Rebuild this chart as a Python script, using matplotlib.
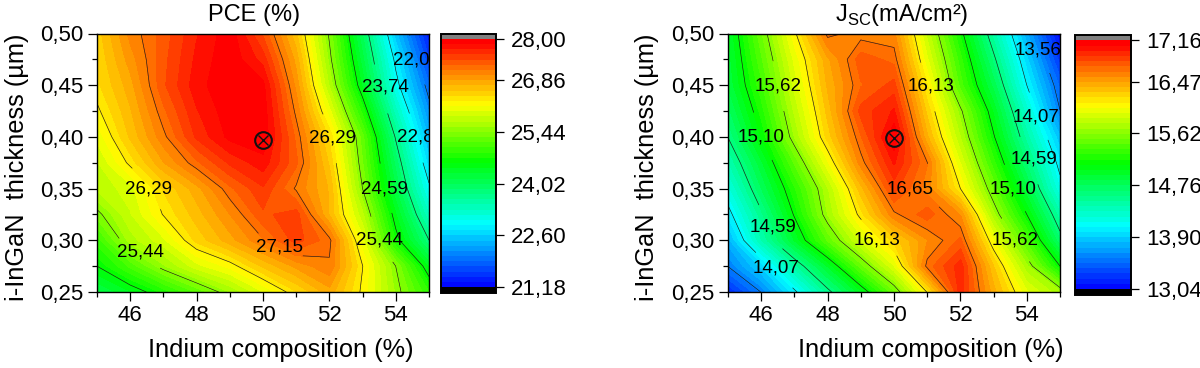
import numpy as np
import matplotlib
matplotlib.use("Agg")
import matplotlib.pyplot as plt
from matplotlib.colors import LinearSegmentedColormap, Normalize

plt.rcParams['font.family'] = ['Liberation Sans', 'DejaVu Sans']
plt.rcParams['mathtext.fontset'] = 'custom'
plt.rcParams['mathtext.rm'] = 'Liberation Sans'

indium = [45, 46, 47, 48, 49, 50, 51, 52, 53, 54, 55]
thickness = [0.25, 0.275, 0.30, 0.325, 0.35, 0.375, 0.40, 0.425, 0.45, 0.475, 0.50]

pce = [
    [24.15, 24.42, 24.77, 25.17, 25.58, 26.00, 26.42, 26.80, 26.25, 25.55, 24.87],
    [24.59, 25.05, 25.55, 25.95, 26.20, 26.60, 26.90, 27.12, 26.30, 25.44, 24.40],
    [24.94, 25.65, 25.97, 26.48, 26.80, 27.13, 27.50, 27.20, 26.05, 24.70, 23.74],
    [25.37, 25.85, 26.31, 26.65, 27.00, 27.40, 27.50, 26.70, 25.75, 24.45, 23.30],
    [25.75, 25.95, 26.45, 26.80, 27.25, 27.55, 27.12, 26.70, 25.44, 24.15, 22.95],
    [25.85, 26.35, 26.85, 27.25, 27.60, 27.80, 27.32, 26.55, 25.30, 23.95, 22.65],
    [26.05, 26.60, 27.10, 27.60, 27.90, 27.97, 27.25, 26.40, 25.20, 23.70, 22.40],
    [26.25, 26.70, 27.25, 27.70, 27.95, 27.95, 27.10, 26.05, 24.80, 23.35, 22.15],
    [26.40, 26.80, 27.40, 27.80, 27.98, 27.90, 26.95, 25.70, 24.40, 23.00, 21.90],
    [26.45, 26.93, 27.38, 27.75, 27.97, 27.65, 26.80, 25.52, 24.20, 22.80, 21.60],
    [26.50, 27.05, 27.35, 27.70, 27.95, 27.40, 26.60, 25.40, 24.00, 22.50, 21.35],
]
jsc = [
    [13.20, 13.56, 14.03, 14.53, 14.98, 15.50, 16.14, 16.95, 16.42, 15.97, 15.72],
    [13.56, 13.92, 14.45, 14.93, 15.48, 15.95, 16.68, 16.95, 16.30, 15.72, 15.10],
    [13.77, 14.40, 14.93, 15.45, 15.90, 16.25, 16.55, 16.75, 16.03, 15.40, 14.67],
    [14.00, 14.55, 15.12, 15.70, 16.18, 16.62, 16.78, 16.55, 15.72, 15.10, 14.43],
    [14.20, 14.75, 15.25, 15.77, 16.35, 16.85, 16.60, 16.13, 15.50, 14.85, 14.15],
    [14.40, 14.90, 15.45, 16.02, 16.60, 17.00, 16.65, 15.95, 15.30, 14.65, 14.00],
    [14.59, 15.10, 15.70, 16.25, 16.72, 17.15, 16.40, 15.78, 15.12, 14.45, 13.82],
    [14.72, 15.22, 15.80, 16.33, 16.85, 17.00, 16.27, 15.65, 14.99, 14.27, 13.56],
    [14.85, 15.33, 15.90, 16.40, 16.72, 16.85, 16.13, 15.40, 14.80, 14.07, 13.44],
    [14.88, 15.42, 15.98, 16.45, 16.78, 16.70, 15.97, 15.30, 14.63, 13.92, 13.25],
    [14.92, 15.51, 16.10, 16.68, 16.60, 16.58, 15.84, 15.16, 14.45, 13.74, 13.05],
]

pce_range = (21.18, 28.00)
jsc_range = (13.04, 17.16)
pce_cb_ticks = [21.18, 22.60, 24.02, 25.44, 26.86, 28.00]
jsc_cb_ticks = [13.04, 13.90, 14.76, 15.62, 16.47, 17.16]
pce_cb_labels = ['21,18', '22,60', '24,02', '25,44', '26,86', '28,00']
jsc_cb_labels = ['13,04', '13,90', '14,76', '15,62', '16,47', '17,16']
xticks = [46, 48, 50, 52, 54]
yticks = [0.25, 0.30, 0.35, 0.40, 0.45, 0.50]
ytick_labels = ['0,25', '0,30', '0,35', '0,40', '0,45', '0,50']

pce_labels = [('26,29', 46.54, 0.350), ('25,44', 46.31, 0.289), ('27,15', 50.5, 0.294),
              ('26,29', 52.1, 0.399), ('25,44', 53.5, 0.300), ('24,59', 53.66, 0.350),
              ('23,74', 53.7, 0.448), ('22,89', 54.75, 0.400), ('22,03', 54.62, 0.474)]
jsc_labels = [('15,62', 46.5, 0.449), ('15,10', 46.0, 0.400), ('14,59', 46.35, 0.313),
              ('14,07', 46.45, 0.273), ('16,13', 49.48, 0.300), ('16,65', 50.5, 0.350),
              ('16,13', 51.1, 0.449), ('13,56', 54.35, 0.484), ('14,07', 54.28, 0.419),
              ('14,59', 54.22, 0.379), ('15,10', 53.6, 0.350), ('15,62', 53.65, 0.300)]

pce_marker = (50.0, 0.397)
jsc_marker = (50.0, 0.399)

cmap = LinearSegmentedColormap.from_list('rb', [
    (0.0, '#0000ff'), (0.255, '#00ffff'), (0.505, '#00ff00'),
    (0.735, '#ffff00'), (0.87, '#ff8000'), (0.985, '#ff0000'), (1.0, '#ff0000')])
cmap.set_under('#000000')
cmap.set_over('#808080')

W, H = 1200, 368
TICK_FS = 16
LABEL_FS = 18.3
fig = plt.figure(figsize=(W / 100, H / 100), dpi=100)


def rect(x0, x1, y0, y1):
    return [x0 / W, 1 - y1 / H, (x1 - x0) / W, (y1 - y0) / H]


def fmt_level(v):
    return f"{round(v + 1e-9, 2):.2f}".replace('.', ',')


def panel(z, rng, ticks, tlabels, labels, marker, title, axbox, cbbox, ylab_x, tx, xlx):
    ax = fig.add_axes(rect(*axbox))
    fill_levels = np.linspace(rng[0], rng[1], 49)
    line_levels = np.linspace(rng[0], rng[1], 9)[1:-1]
    norm = Normalize(rng[0], rng[1])
    cf = ax.contourf(indium, thickness, z, levels=fill_levels, cmap=cmap, norm=norm, extend='both')
    cf.set_edgecolor('face')
    cf.set_linewidth(0.3)
    cs = ax.contour(indium, thickness, z, levels=line_levels, colors='#1a1a1a', linewidths=0.45)
    ax.clabel(cs, fmt=fmt_level, fontsize=13.5, inline=True, inline_spacing=2,
              manual=[(a, b) for _, a, b in labels])
    for t, (s, a, b) in zip(cs.labelTexts, labels):
        t.set_text(s)
        t.set_position((a, b))
        t.set_rotation(0)
        t.set_color('black')
        t.set_clip_on(True)
        t.set_clip_box(ax.bbox)
    ax.plot([marker[0]], [marker[1]], marker='o', ms=12, mfc='none', mec='#111111', mew=1.5, ls='none', zorder=5)
    ax.plot([marker[0]], [marker[1]], marker='x', ms=7.5, mec='#111111', mew=1.0, ls='none', zorder=5)
    ax.set_xlim(45, 55)
    ax.set_ylim(0.25, 0.50)
    ax.set_xticks(xticks)
    ax.set_xticks([45, 47, 49, 51, 53, 55], minor=True)
    ax.set_yticks(yticks)
    ax.set_yticklabels(ytick_labels)
    ax.set_yticks([0.275, 0.325, 0.375, 0.425, 0.475], minor=True)
    ax.tick_params(which='major', length=6.5, width=0.9, labelsize=TICK_FS, pad=3)
    ax.tick_params(which='minor', length=3.5, width=0.9)
    for sp in ax.spines.values():
        sp.set_linewidth(1.0)
    fig.text(ylab_x / W, 1 - 167 / H, 'i-InGaN  thickness (µm)', rotation=90, ha='center', va='center', fontsize=LABEL_FS)
    fig.text(tx / W, 1 - 15 / H, title, ha='center', va='center', fontsize=17)
    fig.text(xlx / W, 1 - 350 / H, 'Indium composition (%)', ha='center', va='center', fontsize=LABEL_FS)

    cax = fig.add_axes(rect(*cbbox))
    cb = fig.colorbar(cf, cax=cax, extend='both', extendrect=True, extendfrac=0.022, drawedges=False)
    cb.set_ticks(ticks)
    cb.set_ticklabels(tlabels)
    cb.ax.minorticks_off()
    cb.ax.tick_params(length=6, width=0.9, labelsize=TICK_FS, pad=5)
    cb.outline.set_linewidth(1.4)


panel(pce, pce_range, pce_cb_ticks, pce_cb_labels, pce_labels, pce_marker, 'PCE (%)',
      (97, 429, 33.5, 292), (440.5, 496, 33.5, 292.5), 17, 254, 281)
panel(jsc, jsc_range, jsc_cb_ticks, jsc_cb_labels, jsc_labels, jsc_marker,
      r'J$_{\mathrm{SC}}$(mA/cm²)',
      (728, 1060, 33.5, 292), (1075, 1131, 35, 294.5), 647, 902, 931)

fig.savefig('out.png', dpi=100)
